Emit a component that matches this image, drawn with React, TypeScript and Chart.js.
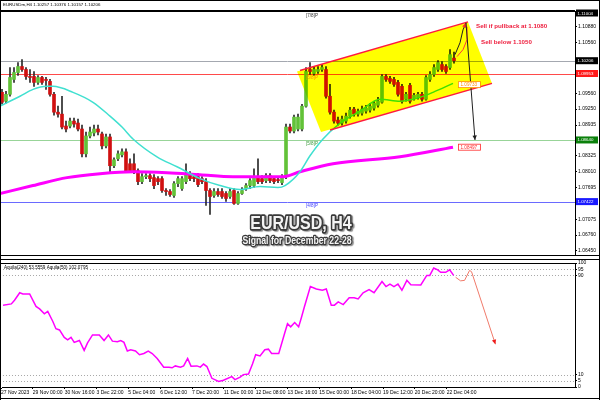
import React, { useEffect, useRef } from "react";
import { Chart, registerables } from "chart.js";
Chart.register(...registerables);

const FONT = "'Liberation Sans', Arial, sans-serif";
Chart.defaults.font.family = FONT;

const headerText = "EURUSDm,H4 1.10257 1.10376 1.10157 1.10206";
const indicatorText = "Aquila(240) 53.5559 Aquila(50) 102.0795";

const candleOpen = [1.09581,1.09405,1.09542,1.09836,1.09973,1.10091,1.10032,1.09895,1.09895,1.09777,1.09875,1.09836,1.09797,1.09542,1.09189,1.0915,1.08915,1.08915,1.09013,1.08974,1.08856,1.08366,1.08719,1.08778,1.08856,1.08758,1.08523,1.08699,1.08131,1.08268,1.08346,1.08405,1.0817,1.0817,1.08033,1.07817,1.07915,1.07935,1.07896,1.07876,1.07876,1.07641,1.07621,1.07543,1.07778,1.0768,1.07817,1.07974,1.07915,1.07915,1.07876,1.07817,1.07641,1.07543,1.07621,1.07621,1.07582,1.07523,1.07641,1.07386,1.07582,1.0768,1.07739,1.07739,1.07915,1.07876,1.07837,1.07935,1.07876,1.07856,1.07798,1.07915,1.08895,1.08817,1.08856,1.08856,1.09307,1.10032,1.09954,1.09993,1.10032,1.10032,1.09503,1.09189,1.09032,1.08974,1.09013,1.09111,1.09248,1.0915,1.0917,1.09209,1.09228,1.09268,1.09326,1.09385,1.09895,1.09856,1.09836,1.09777,1.09699,1.09444,1.09718,1.09464,1.09483,1.09542,1.09444,1.09836,1.09934,1.10032,1.1013,1.10091,1.10071,1.10257];
const candleHigh = [1.0964,1.09601,1.10071,1.10071,1.10169,1.10228,1.10071,1.10032,1.09993,1.09914,1.09895,1.09875,1.09836,1.09581,1.09307,1.09503,1.09013,1.09072,1.09072,1.09052,1.08934,1.08797,1.08895,1.08934,1.08934,1.08797,1.08758,1.08758,1.08288,1.08425,1.08464,1.08464,1.08268,1.08366,1.08072,1.07974,1.07974,1.07974,1.07954,1.07915,1.07915,1.0768,1.0766,1.07817,1.07915,1.07915,1.0817,1.08013,1.07954,1.07974,1.07915,1.07876,1.0768,1.0768,1.0768,1.0768,1.07621,1.0768,1.0768,1.07621,1.077,1.07778,1.07876,1.08072,1.08268,1.07935,1.07974,1.07974,1.07915,1.07896,1.07954,1.08954,1.08954,1.0913,1.0915,1.09346,1.10071,1.10169,1.10091,1.10091,1.1013,1.10091,1.09738,1.09228,1.09091,1.09111,1.0917,1.09287,1.09287,1.09248,1.09307,1.09326,1.09366,1.09405,1.09483,1.09934,1.09934,1.09895,1.09875,1.09816,1.09738,1.09581,1.09758,1.09562,1.09581,1.09581,1.09914,1.09993,1.1013,1.10208,1.10189,1.1013,1.10424,1.10376];
const candleLow = [1.09346,1.09366,1.09503,1.09777,1.09914,1.09993,1.09836,1.09777,1.09699,1.09738,1.09738,1.0964,1.09503,1.0913,1.09091,1.08856,1.08797,1.08876,1.08895,1.08817,1.08307,1.08307,1.0868,1.08719,1.08738,1.08464,1.08484,1.08013,1.08092,1.08229,1.08307,1.07994,1.07994,1.07974,1.07758,1.07778,1.07876,1.07817,1.0768,1.07758,1.07602,1.07543,1.07523,1.07504,1.07719,1.07641,1.07778,1.07837,1.07817,1.07719,1.07778,1.07347,1.0717,1.07504,1.07523,1.07484,1.07425,1.07484,1.07366,1.07366,1.07562,1.07641,1.0768,1.077,1.07778,1.07778,1.07798,1.07798,1.07778,1.07798,1.07758,1.07876,1.08778,1.08778,1.08817,1.08817,1.09287,1.09934,1.09914,1.09954,1.09993,1.09464,1.0915,1.08974,1.08934,1.08934,1.08974,1.09072,1.09111,1.09111,1.0913,1.0917,1.09189,1.09228,1.09287,1.09366,1.09797,1.09758,1.09699,1.09503,1.09366,1.09405,1.09366,1.09424,1.09444,1.09405,1.09424,1.09797,1.09895,1.09993,1.09993,1.09954,1.10032,1.10157];
const candleClose = [1.09385,1.09542,1.09875,1.09973,1.10091,1.10032,1.09895,1.09875,1.09777,1.09875,1.09777,1.09816,1.09542,1.09189,1.0915,1.08895,1.08856,1.09013,1.08954,1.08856,1.08366,1.08719,1.08797,1.08856,1.08797,1.08523,1.08699,1.08131,1.08248,1.08366,1.08405,1.08033,1.08033,1.08033,1.07817,1.07915,1.07935,1.07876,1.07739,1.07817,1.07641,1.07621,1.07562,1.07778,1.07876,1.07876,1.07974,1.07876,1.07876,1.07758,1.07817,1.07641,1.07523,1.07621,1.07562,1.07523,1.07484,1.07621,1.07386,1.07582,1.07641,1.07739,1.07837,1.07915,1.07817,1.07817,1.07935,1.07837,1.07817,1.07837,1.07915,1.08895,1.08817,1.09091,1.09091,1.09307,1.09993,1.09993,1.10032,1.10032,1.10071,1.09503,1.09189,1.09013,1.08974,1.09052,1.09111,1.09228,1.0915,1.09209,1.09248,1.09268,1.09307,1.09366,1.09405,1.09895,1.09836,1.09797,1.09738,1.09542,1.09405,1.09542,1.09405,1.09522,1.09542,1.09444,1.09875,1.09934,1.10071,1.10169,1.10032,1.09993,1.10326,1.10206];

// [bar index, price]
const maFast = [[-0.5,1.09307],[4.5,1.09503],[7.75,1.0964],[11.25,1.09699],[12.75,1.09699],[17.75,1.09581],[22.75,1.09385],[27,1.09111],[30,1.08895],[32.75,1.0866],[38.75,1.08307],[43.75,1.08111],[49.5,1.07876],[54.5,1.07739],[59.5,1.0766],[64.5,1.07719],[69,1.077],[70.75,1.07739],[74.5,1.08013],[77,1.08327],[80.25,1.0866],[84.25,1.08954],[89.5,1.09209],[94.5,1.09444],[99.5,1.09405],[104.5,1.09483],[107.75,1.09581],[112.75,1.09758]];
const maSlow = [[-0.5,1.07582],[7.75,1.07739],[16.25,1.07896],[24.5,1.07974],[32.75,1.08013],[41.25,1.07994],[49.5,1.07954],[57.75,1.07915],[70.25,1.07915],[74.5,1.08013],[82.75,1.0817],[99.5,1.08307],[112.75,1.08497]];

// [bar index, value]
const aquila = [[-0.5,66],[1.6,67],[2.4,70],[3.7,76],[4.5,75],[6.2,75],[7.8,65],[8.7,63],[9.9,59],[10.75,61],[12,53],[12.8,47],[13.7,46],[14.9,40],[15.75,38],[16.6,40],[17.4,36],[18.7,37.5],[19.9,29.5],[20.75,35.6],[22,42],[23.7,42],[24.9,37.5],[26,42],[27,37],[28.25,36.5],[29.1,37.5],[29.9,36],[30.75,29],[31.6,30],[32.8,29],[33.8,26],[34.9,27],[36,29],[37,27],[38.25,23],[39.9,16],[41.2,16],[42,15.5],[42.8,17],[44.1,16],[44.9,17],[45.9,23],[46.75,16.8],[48.25,17],[49.1,16],[49.9,18.5],[50.75,16.5],[52,7],[53.7,4.4],[54.9,5.5],[57,8.4],[57.8,6],[59.1,8],[59.9,10],[61.2,10.5],[62.2,18.5],[63,26],[64.1,25],[65.3,30],[66.2,30.5],[67,27],[68.8,27],[70.3,43.5],[71,51],[71.8,48.5],[72.8,52],[73.8,48.5],[74.5,56],[75.25,64.7],[76.75,81],[78.25,79],[79.75,78],[80.75,79],[82,66],[82.8,66],[83.75,68.6],[85,66.5],[86.5,72],[87.75,72],[88.75,71],[90,76],[91.5,78.5],[92.75,76],[94.75,85],[95.75,81],[96.75,83],[97.75,81],[98.75,83],[99.75,78],[101,86],[102,82.5],[104.5,82.3],[106,90],[106.75,90],[107.75,96],[108.75,94.5],[109.5,92.5],[110.75,92.5],[111.75,94.5],[112.75,90]];
const aquilaForecast = [[113.25,88.5],[114.5,85.6],[115.5,86],[116.75,94],[117.25,93],[123.25,34.5]];

const priceTicks = [1.1088,1.1056,1.0956,1.0925,1.08935,1.08325,1.0801,1.07695,1.07075,1.0676,1.0645];
const aquilaTicks = [0,5,10,90,95,100];
const aquilaGrid = [5,10,90,95];
const dateTickBars = [-1,7,15,23,31,39,47,55,63,71,79,87,95,103,111];
const dateLabels = ["27 Nov 2023","29 Nov 00:00","30 Nov 16:00","3 Dec 22:00","5 Dec 04:00","6 Dec 12:00","7 Dec 20:00","11 Dec 00:00","12 Dec 08:00","13 Dec 16:00","15 Dec 00:00","18 Dec 04:00","19 Dec 12:00","20 Dec 20:00","22 Dec 04:00"];

const levelPrices = [1.10206,1.09953,1.0864,1.07422];
const levelColors = ["#a4a8b0","#ff4a4a","#98d498","#6a6aff"];
const murreyLevels = [1.1117,1.09953,1.0864,1.07422];
const murreyLabels = ["[7/8]P","[6/8]P","[5/8]P","[4/8]P"];
const murreyColors = ["#333333","#ff8c00","#3a9a3a","#3a3aff"];
const murreyBar = 77.5;
const axisBoxValues = [1.1117,1.10206,1.09953,1.0864,1.07422];
const axisBoxTexts = ["1.11004","1.10206","1.09953","1.08640","1.07422"];
const axisBoxColors = ["#000000","#000000","#ff1a1a","#0a800a","#1a1aff"];
const maBoxes = [{ text: "1.09733", bar: 114, value: 1.09733, color: "#ff8c00" },{ text: "1.08497", bar: 114, value: 1.08497, color: "#ff2a2a" }];

const channelPoly = [[73.75,1.09993],[116.5,1.10973],[122.5,1.09758],[79.75,1.08797]];
const channelTop = [[74.5,1.10012],[116.5,1.10973]];
const channelBottom = [[82,1.08836],[122.5,1.09758]];
const rallyPath = [[113.25,1.10326],[114.5,1.10561],[115.25,1.10816],[116,1.10953]];
const pullbackPath = [[116.25,1.10875],[116.25,1.1062],[115.25,1.10424],[113.75,1.10287]];
const targetArrow = [[116,1.10953],[118.25,1.0864]];
const sellNotes = [{ text: "Sell if pullback at 1.1080", bar: 118.5, value: 1.10894 },{ text: "Sell below 1.1050", bar: 119.75, value: 1.10571 }];
const titleText = { text: "EUR/USD, H4", bar: 74.75, value: 1.06994 };
const subtitleText = { text: "Signal for December 22-28", bar: 73.75, value: 1.06641 };

const PRICE_MIN = 1.06367;
const PRICE_MAX = 1.11188;
const X_MIN = -0.5;
const X_MAX = 143.25;

function arrowHead(ctx: any, x0: number, y0: number, x1: number, y1: number, size: number, color: string) {
  const ang = Math.atan2(y1 - y0, x1 - x0);
  ctx.fillStyle = color;
  ctx.beginPath();
  ctx.moveTo(x1, y1);
  ctx.lineTo(x1 - size * Math.cos(ang - 0.45), y1 - size * Math.sin(ang - 0.45));
  ctx.lineTo(x1 - size * Math.cos(ang + 0.45), y1 - size * Math.sin(ang + 0.45));
  ctx.closePath();
  ctx.fill();
}

function outlined(ctx: any, text: string, x: number, y: number, size: number, sy: number) {
  ctx.save();
  ctx.translate(x, y);
  ctx.scale(1, sy);
  ctx.font = `bold ${size}px ${FONT}`;
  ctx.textAlign = "center";
  ctx.textBaseline = "middle";
  ctx.lineJoin = "round";
  ctx.shadowColor = "rgba(0,0,0,0.45)";
  ctx.shadowOffsetX = 1.5;
  ctx.shadowOffsetY = 1.5;
  ctx.shadowBlur = 1;
  ctx.strokeStyle = "#3a3a3a";
  ctx.lineWidth = size > 12 ? 3 : 2.2;
  ctx.strokeText(text, 0, 0);
  ctx.shadowColor = "rgba(0,0,0,0)";
  ctx.fillStyle = "#f4f4f4";
  ctx.fillText(text, 0, 0);
  ctx.restore();
}

function path(ctx: any, pts: number[][], X: (v: number) => number, Y: (v: number) => number) {
  ctx.beginPath();
  pts.forEach(([i, v], k) => (k ? ctx.lineTo(X(i), Y(v)) : ctx.moveTo(X(i), Y(v))));
}

const mainDecor = {
  id: "mainDecor",
  beforeDatasetsDraw(chart: any) {
    const { ctx, chartArea: a, scales } = chart;
    ctx.save();
    levelPrices.forEach((v, k) => {
      const py = Math.round(scales.y.getPixelForValue(v)) + 0.5;
      ctx.strokeStyle = levelColors[k];
      ctx.lineWidth = 1;
      ctx.beginPath();
      ctx.moveTo(a.left, py);
      ctx.lineTo(a.right, py);
      ctx.stroke();
    });
    ctx.restore();
  },
  afterDatasetsDraw(chart: any) {
    const { ctx, chartArea: a, scales } = chart;
    const X = (i: number) => scales.x.getPixelForValue(i);
    const Y = (v: number) => scales.y.getPixelForValue(v);
    ctx.save();
    ctx.beginPath();
    ctx.rect(a.left, a.top, a.right - a.left, a.bottom - a.top);
    ctx.clip();
    ctx.globalCompositeOperation = "multiply";
    ctx.fillStyle = "#ffff00";
    path(ctx, channelPoly, X, Y);
    ctx.closePath();
    ctx.fill();
    ctx.globalCompositeOperation = "source-over";
    ctx.strokeStyle = "#ff1a3c";
    ctx.lineWidth = 1.5;
    path(ctx, channelTop, X, Y);
    ctx.stroke();
    path(ctx, channelBottom, X, Y);
    ctx.stroke();
    ctx.lineWidth = 1;
    ctx.strokeStyle = "#ff3a3a";
    path(ctx, pullbackPath, X, Y);
    ctx.stroke();
    ctx.strokeStyle = "#202020";
    path(ctx, rallyPath, X, Y);
    ctx.stroke();
    const r = rallyPath;
    arrowHead(ctx, X(r[2][0]), Y(r[2][1]), X(r[3][0]), Y(r[3][1]), 5, "#ff2a2a");
    const t = targetArrow;
    ctx.strokeStyle = "#202020";
    path(ctx, t, X, Y);
    ctx.stroke();
    arrowHead(ctx, X(t[0][0]), Y(t[0][1]), X(t[1][0]), Y(t[1][1]), 5, "#202020");
    // murrey labels
    ctx.font = `4.6px ${FONT}`;
    ctx.textAlign = "center";
    ctx.textBaseline = "top";
    murreyLevels.forEach((v, k) => {
      ctx.fillStyle = murreyColors[k];
      ctx.fillText(murreyLabels[k], X(murreyBar), Math.max(Y(v), a.top) + 1.5);
    });
    // sell notes
    ctx.font = `bold 6.2px ${FONT}`;
    ctx.textAlign = "left";
    ctx.textBaseline = "middle";
    ctx.fillStyle = "#ee1c3c";
    sellNotes.forEach((n) => ctx.fillText(n.text, X(n.bar), Y(n.value)));
    // ma value boxes
    ctx.font = `4.6px ${FONT}`;
    maBoxes.forEach((b) => {
      const bx = X(b.bar), by = Y(b.value);
      ctx.fillStyle = "#ffffff";
      ctx.fillRect(bx, by - 3, 22, 6);
      ctx.strokeStyle = b.color;
      ctx.lineWidth = 0.8;
      ctx.strokeRect(bx + 0.5, by - 3, 22, 6);
      ctx.fillStyle = b.color;
      ctx.fillText(b.text, bx + 2.5, by + 0.3);
    });
    outlined(ctx, titleText.text, X(titleText.bar), Y(titleText.value), 16, 1.2);
    outlined(ctx, subtitleText.text, X(subtitleText.bar), Y(subtitleText.value), 8.7, 1.15);
    ctx.restore();
  },
  afterDraw(chart: any) {
    const { ctx, chartArea: a, scales, width } = chart;
    ctx.save();
    ctx.fillStyle = "#000";
    ctx.font = `4.4px ${FONT}`;
    ctx.textAlign = "left";
    ctx.textBaseline = "middle";
    ctx.fillText(headerText, 3, 5);
    ctx.fillStyle = "#000";
    ctx.fillRect(a.left, a.top - 1, a.right - a.left, 2);
    ctx.fillRect(0, 0, 1, chart.height);
    ctx.fillRect(0, a.bottom, width, 1);
    ctx.fillRect(width - 1, 0, 1, chart.height);
    ctx.fillRect(0, 0, width, 1);
    axisBoxValues.forEach((v, k) => {
      const py = Math.max(scales.y.getPixelForValue(v), a.top + 2);
      ctx.fillStyle = axisBoxColors[k];
      ctx.fillRect(a.right + 1, py - 3.5, 22, 7);
      ctx.fillStyle = "#ffffff";
      ctx.fillText(axisBoxTexts[k], a.right + 2.5, py + 0.3);
    });
    ctx.restore();
  },
};

const subDecor = {
  id: "subDecor",
  beforeDatasetsDraw(chart: any) {
    const { ctx, chartArea: a, scales } = chart;
    ctx.save();
    ctx.strokeStyle = "#a8a8a8";
    ctx.lineWidth = 1;
    ctx.setLineDash([1, 2]);
    aquilaGrid.forEach((v) => {
      const py = Math.round(scales.y.getPixelForValue(v)) + 0.5;
      ctx.beginPath();
      ctx.moveTo(a.left, py);
      ctx.lineTo(a.right, py);
      ctx.stroke();
    });
    ctx.restore();
  },
  afterDatasetsDraw(chart: any) {
    const { ctx, chartArea: a, scales } = chart;
    const X = (i: number) => scales.x.getPixelForValue(i);
    const Y = (v: number) => scales.y.getPixelForValue(v);
    ctx.save();
    ctx.strokeStyle = "#f07a6a";
    ctx.lineWidth = 1;
    path(ctx, aquilaForecast, X, Y);
    ctx.stroke();
    const n = aquilaForecast.length;
    arrowHead(ctx, X(aquilaForecast[n - 2][0]), Y(aquilaForecast[n - 2][1]), X(aquilaForecast[n - 1][0]), Y(aquilaForecast[n - 1][1]), 5, "#ee1a1a");
    ctx.fillStyle = "#000";
    ctx.font = `4.6px ${FONT}`;
    ctx.textAlign = "left";
    ctx.textBaseline = "middle";
    ctx.fillText(indicatorText, a.left + 1, a.top + 4.5);
    ctx.restore();
  },
  afterDraw(chart: any) {
    const { ctx, chartArea: a, width, height } = chart;
    ctx.save();
    ctx.fillStyle = "#000";
    ctx.fillRect(0, 0, width, 1);
    ctx.fillRect(0, a.top, a.right, 1);
    ctx.fillRect(0, 0, 1, height);
    ctx.fillRect(width - 1, 0, 1, height);
    ctx.fillRect(0, height - 2, width, 1);
    ctx.restore();
  },
};

export default function App() {
  const mainRef = useRef<HTMLCanvasElement>(null);
  const subRef = useRef<HTMLCanvasElement>(null);

  useEffect(() => {
    document.body.style.margin = "0";
    const bars = candleOpen.map((_, i) => i);
    const up = "#62c238";
    const down = "#d01010";
    const main = new Chart(mainRef.current as HTMLCanvasElement, {
      type: "bar",
      data: {
        datasets: [
          { type: "line", data: maFast.map(([x, y]) => ({ x, y })), borderColor: "#40e0d0", borderWidth: 1.5, pointRadius: 0, cubicInterpolationMode: "monotone", order: 0 } as any,
          { type: "line", data: maSlow.map(([x, y]) => ({ x, y })), borderColor: "#ff00ff", borderWidth: 3, pointRadius: 0, cubicInterpolationMode: "monotone", order: 0 } as any,
          { type: "bar", data: bars.map((i) => ({ x: i, y: [candleLow[i], candleHigh[i]] })), backgroundColor: "#2a2a2a", barThickness: 1, grouped: false, order: 2 } as any,
          {
            type: "bar",
            data: bars.map((i) => ({ x: i, y: [candleOpen[i], candleClose[i]] })),
            backgroundColor: (c: any) => (candleClose[c.dataIndex] >= candleOpen[c.dataIndex] ? up : down),
            barThickness: 3,
            minBarLength: 1,
            grouped: false,
            order: 1,
          } as any,
        ],
      },
      options: {
        responsive: false,
        animation: false,
        devicePixelRatio: 1,
        layout: { padding: { top: 11, left: 0, right: 0, bottom: 2 } },
        plugins: { legend: { display: false }, tooltip: { enabled: false } },
        scales: {
          x: { type: "linear", min: X_MIN, max: X_MAX, display: false, offset: false },
          y: {
            type: "linear",
            position: "right",
            min: PRICE_MIN,
            max: PRICE_MAX,
            afterBuildTicks: (s: any) => { s.ticks = priceTicks.map((v) => ({ value: v })); },
            afterFit: (s: any) => { s.width = 25; },
            ticks: { autoSkip: false, font: { size: 5 }, color: "#000", padding: 1, callback: (v: any) => Number(v).toFixed(5) },
            grid: { drawOnChartArea: false, tickLength: 2, color: "#000" },
            border: { color: "#000", width: 1 },
          },
        },
      } as any,
      plugins: [mainDecor],
    });

    const sub = new Chart(subRef.current as HTMLCanvasElement, {
      type: "line",
      data: {
        datasets: [
          { data: aquila.map(([x, y]) => ({ x, y })), borderColor: "#ff00ff", borderWidth: 1.5, pointRadius: 0, tension: 0 } as any,
        ],
      },
      options: {
        responsive: false,
        animation: false,
        devicePixelRatio: 1,
        layout: { padding: { top: 1, left: 0, right: 0, bottom: 0 } },
        plugins: { legend: { display: false }, tooltip: { enabled: false } },
        scales: {
          x: {
            type: "linear",
            min: X_MIN,
            max: X_MAX,
            afterBuildTicks: (s: any) => { s.ticks = dateTickBars.map((v) => ({ value: v })); },
            afterFit: (s: any) => { s.height = 13; },
            ticks: { autoSkip: false, maxRotation: 0, align: "start", font: { size: 5 }, color: "#000", padding: 1, callback: (_v: any, idx: number) => dateLabels[idx] },
            grid: { drawOnChartArea: false, tickLength: 2, color: "#000" },
            border: { color: "#000", width: 1 },
          },
          y: {
            type: "linear",
            position: "right",
            min: 0,
            max: 100,
            afterBuildTicks: (s: any) => { s.ticks = aquilaTicks.map((v) => ({ value: v })); },
            afterFit: (s: any) => { s.width = 25; },
            ticks: { autoSkip: false, font: { size: 5 }, color: "#000", padding: 1, callback: (v: any) => String(v) },
            grid: { drawOnChartArea: false, tickLength: 2, color: "#000" },
            border: { color: "#000", width: 1 },
          },
        },
      } as any,
      plugins: [subDecor],
    });

    return () => {
      main.destroy();
      sub.destroy();
    };
  }, []);

  return (
    <div style={{ position: "relative", width: 600, height: 400, background: "#fff", overflow: "hidden" }}>
      <canvas ref={mainRef} width={600} height={259} style={{ position: "absolute", left: 0, top: 0 }} />
      <canvas ref={subRef} width={600} height={141} style={{ position: "absolute", left: 0, top: 259 }} />
    </div>
  );
}
